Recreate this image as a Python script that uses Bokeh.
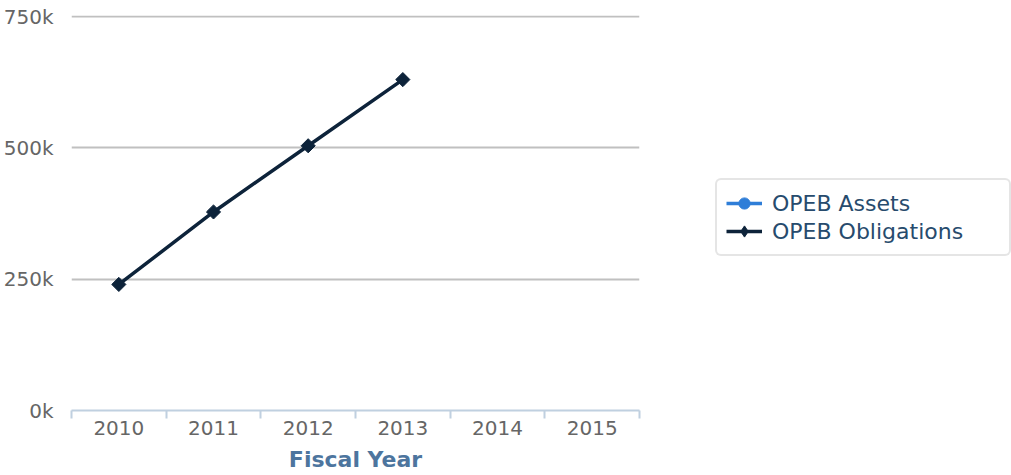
import numpy as np
from bokeh.plotting import figure
from bokeh.models import (Range1d, FixedTicker, Legend, LegendItem, ColumnDataSource)
from bokeh.embed import file_html
from bokeh.resources import INLINE

years = ["2010", "2011", "2012", "2013", "2014", "2015"]
obligation_years = ["2010", "2011", "2012", "2013"]
obligations = [240000, 378000, 504000, 630000]
asset_years = ["2010", "2011", "2012", "2013"]
assets = [None, None, None, None]   # no asset values reported
y_ticks = [0, 250000, 500000, 750000]
y_labels = ["0k", "250k", "500k", "750k"]

FONT = "DejaVu Sans"

# category bands: each year occupies one unit band, points sit at band centres
def band_center(year):
    return years.index(year) + 0.5

# a hair of headroom so the 750k grid line (at the top tick) is drawn
p = figure(x_range=Range1d(0, len(years)), y_range=Range1d(0, 752000),
           output_backend="svg", toolbar_location=None,
           min_border_left=64, min_border_top=15,
           min_border_right=363, min_border_bottom=50)
p.frame_width = 568
p.frame_height = 395
p.outline_line_color = None
p.background_fill_color = "white"
p.border_fill_color = "white"

# grid
p.xgrid.visible = False
p.ygrid.ticker = FixedTicker(ticks=y_ticks)
p.ygrid.grid_line_color = "#c0c0c0"
p.ygrid.grid_line_width = 2

# y axis
ya = p.yaxis[0]
ya.ticker = FixedTicker(ticks=y_ticks)
ya.major_label_overrides = {t: l for t, l in zip(y_ticks, y_labels)}
ya.axis_line_color = None
ya.major_tick_line_color = None
ya.minor_tick_line_color = None
ya.major_label_standoff = 12
ya.major_label_text_font = FONT
ya.major_label_text_font_size = "20px"
ya.major_label_text_color = "#666666"

# x axis: labels at band centres, tick marks at band boundaries
centers = [band_center(y) for y in years]
xa = p.xaxis[0]
xa.ticker = FixedTicker(ticks=centers, minor_ticks=list(range(len(years) + 1)))
xa.major_label_overrides = {c: y for c, y in zip(centers, years)}
xa.axis_line_color = "#c0d0e0"
xa.axis_line_width = 2
xa.major_tick_line_color = None
xa.minor_tick_line_color = "#c0d0e0"
xa.minor_tick_line_width = 2
xa.minor_tick_out = 8
xa.minor_tick_in = 0
xa.major_tick_out = 8
xa.major_tick_in = 0
xa.major_label_standoff = 2
xa.major_label_text_font = FONT
xa.major_label_text_font_size = "20px"
xa.major_label_text_color = "#666666"
xa.axis_label = "Fiscal Year"
xa.axis_label_text_font = FONT
xa.axis_label_text_font_size = "22px"
xa.axis_label_text_font_style = "bold"
xa.axis_label_text_color = "#4d759e"
xa.axis_label_standoff = 9

src_a = ColumnDataSource(dict(x=[band_center(y) for y in asset_years],
                              y=np.array(assets, dtype=float)))
src_o = ColumnDataSource(dict(x=[band_center(y) for y in obligation_years], y=obligations))

la = p.line("x", "y", source=src_a, line_color="#2f7ed8", line_width=3.5)
sa = p.scatter("x", "y", source=src_a, marker="circle", size=13,
               fill_color="#2f7ed8", line_color="#2f7ed8")
lo = p.line("x", "y", source=src_o, line_color="#0d233a", line_width=3.5)
so = p.scatter("x", "y", source=src_o, marker="square", angle=np.pi / 4, size=10,
               fill_color="#0d233a", line_color="#0d233a")
# legend swatch for the diamond marker (legend swatches are drawn unrotated)
so_key = p.scatter("x", "y", source=src_a, marker="diamond", size=14,
                   fill_color="#0d233a", line_color="#0d233a")

legend = Legend(items=[LegendItem(label="OPEB Assets", renderers=[la, sa]),
                       LegendItem(label="OPEB Obligations", renderers=[lo, so_key])],
                location=(76, 154))
legend.label_text_font = FONT
legend.label_text_font_size = "22px"
legend.label_text_color = "#274b6d"
legend.glyph_width = 36
legend.glyph_height = 28
legend.label_height = 28
legend.label_width = 228
legend.label_standoff = 10
legend.spacing = 0
legend.padding = 9
legend.margin = 0
legend.border_line_color = "#cccccc"
legend.border_line_width = 2
legend.border_radius = 6
legend.background_fill_color = "white"
legend.background_fill_alpha = 1
p.add_layout(legend, "right")

open("out.html", "w").write(file_html(p, INLINE))
